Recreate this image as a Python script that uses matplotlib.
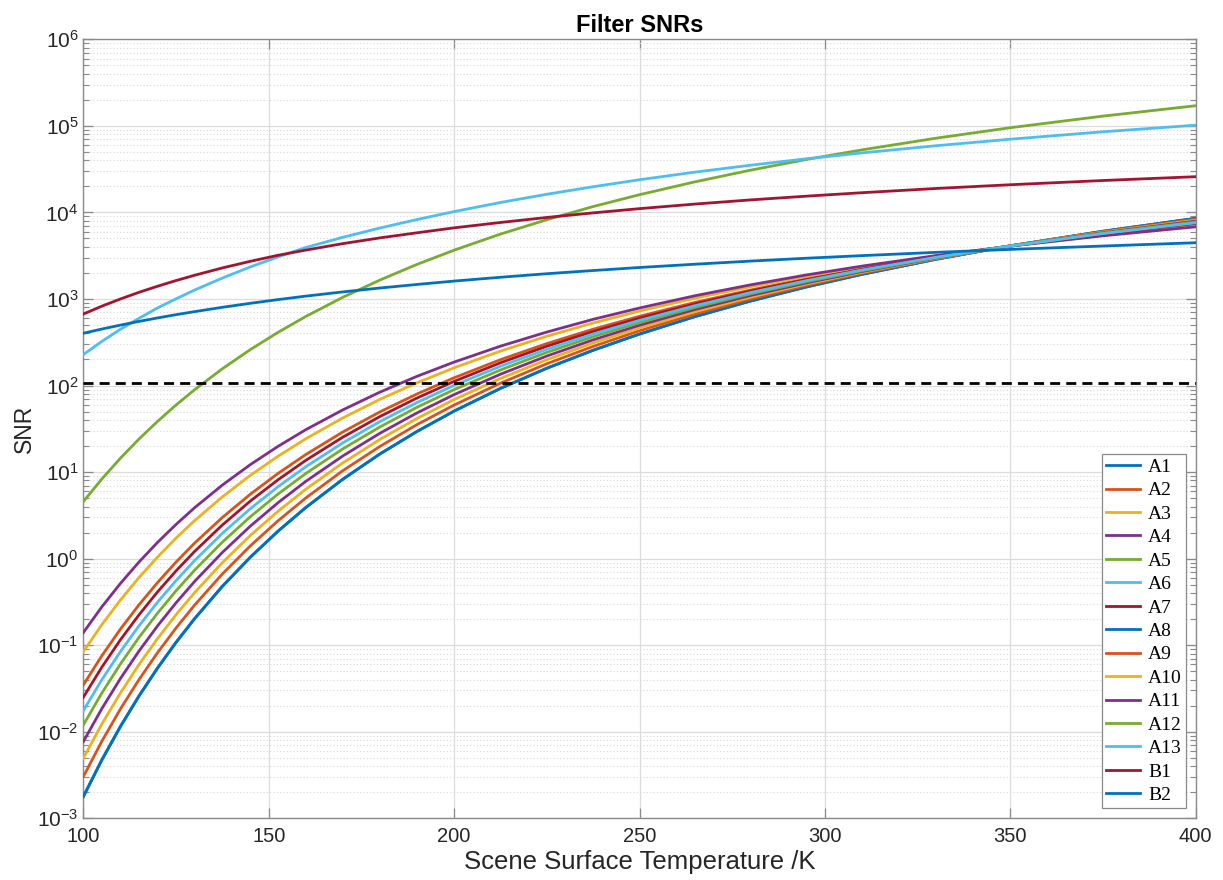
import matplotlib
matplotlib.use("Agg")
import numpy as np
import matplotlib.pyplot as plt
from matplotlib.ticker import LogLocator, FixedLocator, NullFormatter, NullLocator

# ---------------- data (log10 of SNR) ----------------
temperature_K = [100, 105, 110, 115, 120, 125, 130, 137.5, 145, 152.5, 160, 170, 180, 190,
                 200, 212.5, 225, 237.5, 250, 265, 280, 295, 310, 330, 350, 375, 400]

log10_snr_A8 = [-2.750, -2.326, -1.940, -1.588, -1.265, -0.968, -0.694, -0.320, 0.015, 0.317,
                0.591, 0.918, 1.210, 1.470, 1.705, 1.967, 2.200, 2.408, 2.595, 2.797, 2.977,
                3.139, 3.285, 3.459, 3.614, 3.783, 3.932]
log10_snr_A1 = list(log10_snr_A8)  # A1 is not visible: it lies under A8
log10_snr_A2 = [-1.460, -1.122, -0.815, -0.534, -0.277, -0.040, 0.179, 0.476, 0.743, 0.984,
                1.203, 1.464, 1.696, 1.903, 2.090, 2.299, 2.485, 2.651, 2.800, 2.961, 3.104,
                3.233, 3.350, 3.489, 3.612, 3.747, 3.865]
log10_snr_A3 = [-1.075, -0.763, -0.479, -0.219, 0.018, 0.237, 0.439, 0.714, 0.961, 1.183,
                1.385, 1.626, 1.841, 2.032, 2.205, 2.398, 2.570, 2.723, 2.861, 3.010, 3.142,
                3.261, 3.369, 3.497, 3.611, 3.736, 3.845]
log10_snr_A4 = [-0.855, -0.557, -0.287, -0.040, 0.187, 0.395, 0.588, 0.850, 1.085, 1.297,
                1.490, 1.719, 1.924, 2.107, 2.271, 2.455, 2.618, 2.765, 2.896, 3.038, 3.164,
                3.278, 3.380, 3.502, 3.611, 3.730, 3.834]
log10_snr_A5 = [0.659, 0.920, 1.160, 1.381, 1.585, 1.775, 1.951, 2.194, 2.414, 2.614,
                2.798, 3.020, 3.219, 3.400, 3.564, 3.750, 3.916, 4.068, 4.205, 4.354, 4.489,
                4.612, 4.723, 4.858, 4.979, 5.113, 5.233]
log10_snr_A6 = [2.357, 2.510, 2.650, 2.776, 2.896, 3.002, 3.103, 3.242, 3.370, 3.486,
                3.595, 3.713, 3.820, 3.918, 4.010, 4.115, 4.210, 4.297, 4.378, 4.466, 4.546,
                4.620, 4.688, 4.771, 4.846, 4.932, 5.008]
log10_snr_A7 = [-1.602, -1.254, -0.938, -0.650, -0.385, -0.142, 0.083, 0.389, 0.664, 0.911,
                1.136, 1.404, 1.642, 1.856, 2.048, 2.263, 2.454, 2.624, 2.778, 2.943, 3.091,
                3.223, 3.343, 3.486, 3.612, 3.751, 3.873]
log10_snr_A9 = [-2.519, -2.110, -1.738, -1.399, -1.088, -0.802, -0.537, -0.177, 0.146, 0.437,
                0.701, 1.017, 1.297, 1.549, 1.775, 2.027, 2.252, 2.452, 2.633, 2.828, 3.001,
                3.157, 3.298, 3.466, 3.615, 3.778, 3.921]
log10_snr_A10 = [-2.306, -1.911, -1.553, -1.225, -0.925, -0.648, -0.393, -0.046, 0.266, 0.547,
                 0.802, 1.107, 1.378, 1.620, 1.838, 2.082, 2.299, 2.492, 2.667, 2.854, 3.022,
                 3.173, 3.309, 3.471, 3.614, 3.772, 3.910]
log10_snr_A11 = [-2.115, -1.733, -1.386, -1.069, -0.778, -0.511, -0.264, 0.072, 0.374, 0.646,
                 0.893, 1.187, 1.449, 1.684, 1.895, 2.131, 2.341, 2.528, 2.697, 2.879, 3.041,
                 3.186, 3.318, 3.475, 3.614, 3.766, 3.900]
log10_snr_A12 = [-1.922, -1.553, -1.218, -0.911, -0.631, -0.372, -0.134, 0.191, 0.483, 0.746,
                 0.984, 1.269, 1.522, 1.749, 1.953, 2.180, 2.383, 2.564, 2.727, 2.903, 3.060,
                 3.200, 3.327, 3.479, 3.613, 3.761, 3.890]
log10_snr_A13 = [-1.757, -1.399, -1.074, -0.777, -0.504, -0.254, -0.022, 0.293, 0.576, 0.831,
                 1.062, 1.338, 1.584, 1.804, 2.002, 2.223, 2.419, 2.595, 2.753, 2.923, 3.075,
                 3.212, 3.335, 3.482, 3.612, 3.756, 3.881]
log10_snr_B1 = [2.826, 2.917, 3.000, 3.077, 3.147, 3.213, 3.274, 3.359, 3.435, 3.505,
                3.565, 3.640, 3.706, 3.765, 3.822, 3.884, 3.942, 3.995, 4.044, 4.097, 4.145,
                4.188, 4.228, 4.277, 4.320, 4.369, 4.413]
log10_snr_B2 = [2.604, 2.653, 2.698, 2.741, 2.781, 2.819, 2.854, 2.904, 2.950, 2.993,
                3.033, 3.082, 3.127, 3.168, 3.207, 3.251, 3.292, 3.329, 3.364, 3.402, 3.438,
                3.471, 3.501, 3.539, 3.573, 3.612, 3.650]

series_names = ["A1", "A2", "A3", "A4", "A5", "A6", "A7", "A8", "A9", "A10",
                "A11", "A12", "A13", "B1", "B2"]
series_log10 = [log10_snr_A1, log10_snr_A2, log10_snr_A3, log10_snr_A4, log10_snr_A5,
                log10_snr_A6, log10_snr_A7, log10_snr_A8, log10_snr_A9, log10_snr_A10,
                log10_snr_A11, log10_snr_A12, log10_snr_A13, log10_snr_B1, log10_snr_B2]

threshold_snr = 108

x_ticks = [100, 150, 200, 250, 300, 350, 400]
y_tick_exponents = [-3, -2, -1, 0, 1, 2, 3, 4, 5, 6]

# ---------------- style ----------------
matlab_colors = ["#0072BD", "#D95319", "#EDB120", "#7E2F8E",
                 "#77AC30", "#4DBEEE", "#A2142F"]

plt.rcParams["font.family"] = ["Liberation Sans", "DejaVu Sans"]
plt.rcParams["mathtext.default"] = "regular"

axis_gray = "#262626"
frame_gray = "#8a8a8a"

fig = plt.figure(figsize=(12.23, 8.80), dpi=100)
ax = fig.add_axes([0.0681, 0.0701, 0.9096, 0.8852])

for i, (name, logs) in enumerate(zip(series_names, series_log10)):
    ax.plot(temperature_K, 10.0 ** np.asarray(logs), color=matlab_colors[i % 7], lw=2.0,
            label=name, zorder=3)

ax.axhline(threshold_snr, color="black", lw=2.0, ls=(0, (3.6, 2.2)), zorder=5)

ax.set_yscale("log")
ax.set_xlim(100, 400)
ax.set_ylim(1e-3, 1e6)

ax.xaxis.set_major_locator(FixedLocator(x_ticks))
ax.xaxis.set_minor_locator(NullLocator())
ax.yaxis.set_major_locator(FixedLocator([10.0 ** e for e in y_tick_exponents]))
ax.set_yticklabels([r"$10^{%d}$" % e for e in y_tick_exponents])
ax.yaxis.set_minor_locator(LogLocator(base=10, subs=range(2, 10), numticks=50))
ax.yaxis.set_minor_formatter(NullFormatter())

ax.grid(True, which="major", color="#dcdcdc", lw=0.9, ls="-", zorder=0)
ax.grid(True, which="minor", axis="y", color="#d9d9d9", lw=0.8, ls=(0, (1, 2)), zorder=0)
ax.set_axisbelow(True)

ax.tick_params(axis="both", which="both", direction="in", top=True, right=True,
               colors=frame_gray, labelcolor=axis_gray)
ax.tick_params(axis="x", which="major", labelsize=14.5, pad=6)
ax.tick_params(axis="y", which="major", labelsize=15)
ax.tick_params(axis="both", which="major", length=7, width=0.9)
ax.tick_params(axis="y", which="minor", length=4, width=0.8)
for sp in ax.spines.values():
    sp.set_color(frame_gray)
    sp.set_linewidth(1.0)

ax.set_xlabel("Scene Surface Temperature /K", fontsize=18.5, color=axis_gray, labelpad=3)
ax.set_ylabel("SNR", fontsize=16.5, color=axis_gray, labelpad=1)
ax.set_title("Filter SNRs", fontsize=17, fontweight="bold", color="black", pad=5)

leg = ax.legend(loc="lower right", bbox_to_anchor=(0.9913, 0.0132), borderaxespad=0,
                prop={"family": "Liberation Serif", "size": 14}, frameon=True,
                fancybox=False, edgecolor=frame_gray, framealpha=1,
                handlelength=1.75, handletextpad=0.45, labelspacing=0.30,
                borderpad=0.2)
leg.get_frame().set_linewidth(0.9)

fig.savefig("out.png", dpi=100)
